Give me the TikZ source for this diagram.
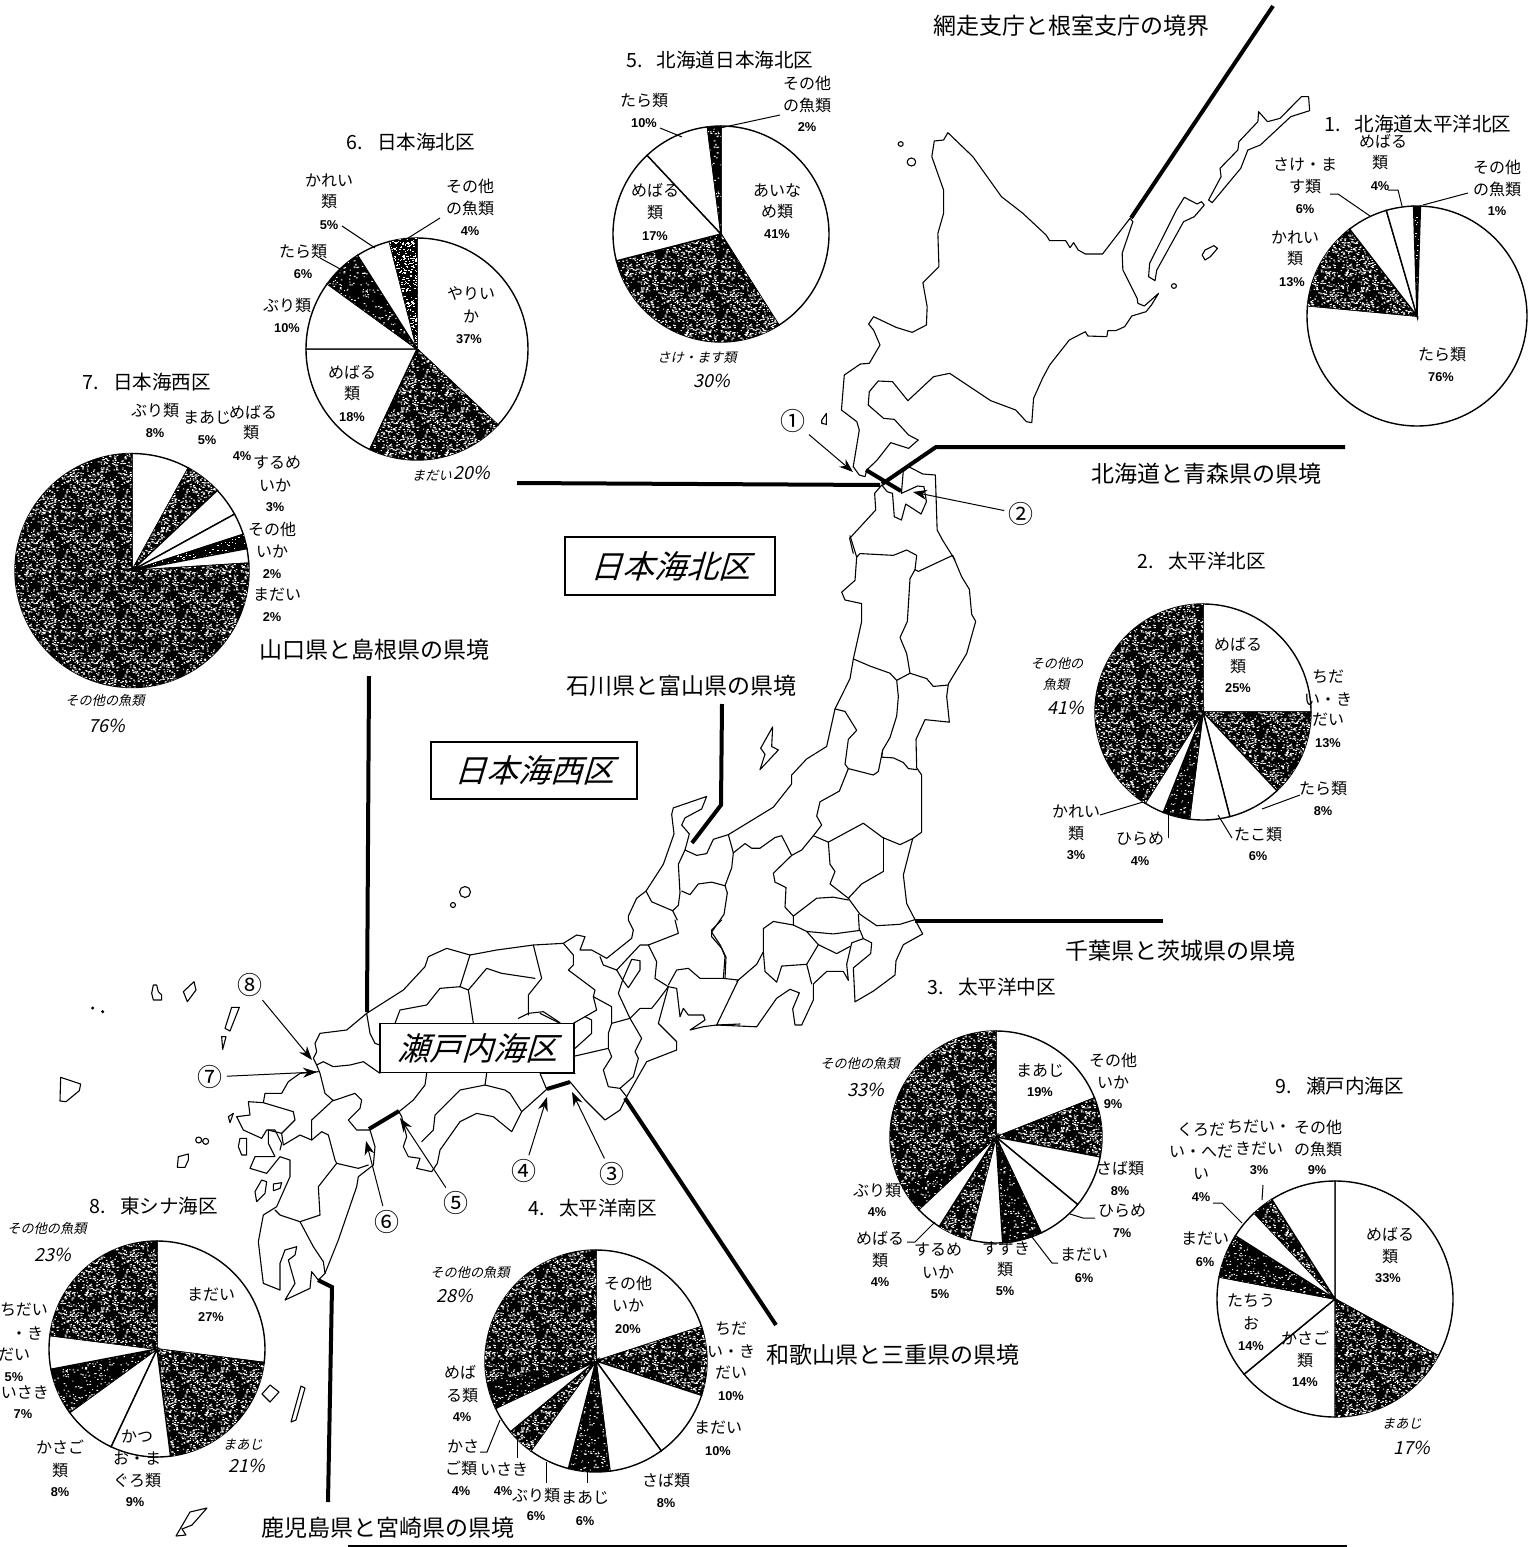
\documentclass[tikz,border=0pt]{standalone}
\usepackage{fontspec}
\setmainfont{Noto Sans CJK JP}
\newfontfamily\pctf{Liberation Sans}
\newfontfamily\slf[FakeSlant=0.3]{Noto Sans CJK JP}
\newfontfamily\hwf[FakeSlant=0.22]{Noto Sans CJK JP}
\usetikzlibrary{arrows.meta,patterns}
\pgfmathsetseed{4711}
\pgfdeclarepatternformonly{speck}{\pgfqpoint{0pt}{0pt}}{\pgfqpoint{30pt}{30pt}}{\pgfqpoint{30pt}{30pt}}{%
  \foreach \i in {1,...,520}{%
    \pgfmathsetmacro\xx{rnd*29.4}\pgfmathsetmacro\yy{rnd*29.4}\pgfmathsetmacro\ww{0.4+rnd*0.7}%
    \pgfpathrectangle{\pgfqpoint{\xx pt}{\yy pt}}{\pgfqpoint{\ww pt}{0.5pt}}\pgfusepath{fill}}}
\pgfdeclarepatternformonly{speckk}{\pgfqpoint{0pt}{0pt}}{\pgfqpoint{30pt}{30pt}}{\pgfqpoint{30pt}{30pt}}{%
  \foreach \i in {1,...,200}{%
    \pgfmathsetmacro\xx{rnd*29.4}\pgfmathsetmacro\yy{rnd*29.4}\pgfmathsetmacro\ww{0.4+rnd*0.6}%
    \pgfpathrectangle{\pgfqpoint{\xx pt}{\yy pt}}{\pgfqpoint{\ww pt}{0.5pt}}\pgfusepath{fill}}}
\tikzset{
  zone1/.style={shift={(780,80)},x=0.17857pt,y=-0.16667pt},
  zone2/.style={shift={(600,500)},x=0.16667pt,y=-0.17857pt},
  zone3/.style={shift={(200,930)},x=0.16667pt,y=-0.16667pt},
  zone5/.style={shift={(540,920)},x=0.16667pt,y=-0.16667pt},
  zone6/.style={shift={(40,960)},x=0.16667pt,y=-0.16667pt},
  maplw/.style={draw=black,line width=0.55pt,line join=round,line cap=round},
  thickb/.style={draw=black,line width=2pt,line join=miter},
  lead/.style={draw=black,line width=0.5pt},
  arr/.style={draw=black,line width=0.5pt,-{Stealth[length=7pt,width=5pt]}},
  pw/.style={draw=black,line width=0.7pt,fill=white},
  pg/.style={draw=black,line width=0.7pt,fill=black,postaction={pattern=speck,pattern color=white}},
  pk/.style={draw=black,line width=0.7pt,fill=black,postaction={pattern=speckk,pattern color=white}},
  lbl/.style={inner sep=0pt,font=\fontsize{8}{8.5}\selectfont},
  pcl/.style={inner sep=0pt,font=\pctf\bfseries\fontsize{6.4}{7}\selectfont},
  ttl/.style={inner sep=0pt,font=\fontsize{9.8}{10}\selectfont},
  bnd/.style={inner sep=0pt,font=\fontsize{11.5}{12}\selectfont},
  hw/.style={inner sep=0pt,font=\hwf\fontsize{6.6}{7}\selectfont},
  hwp/.style={inner sep=0pt,font=\hwf\fontsize{9}{10}\selectfont},
  num/.style={inner sep=0pt,font=\fontsize{12.5}{13}\selectfont},
  zonebox/.style={draw=black,line width=0.8pt,fill=white,inner sep=0pt,font=\slf\fontsize{16}{17}\selectfont},
}
\newcommand\mypie[4]{\foreach \a/\b/\s in {#4}{\path[\s] (#1,#2) -- ++({\a*3.6-90}:#3) arc[start angle={\a*3.6-90},end angle={\b*3.6-90},radius=#3] -- cycle;}}
\newcommand\lab[3]{\node[lbl] at (#1,#2) {#3};}
\newcommand\pc[3]{\node[pcl] at (#1,#2) {#3};}
\newcommand\ttx[2]{#1.\hspace{.7em}#2}
\begin{document}
\begin{tikzpicture}[x=0.5pt,y=-0.5pt]
\useasboundingbox (0,0) rectangle (1540,1547);
% ---------- Hokkaido
\begin{scope}[zone1]
\draw[maplw] (470,158)--(540,230)--(620,350)--(680,400)--(745,465)--(755,482)--(800,482)--(812,503)--(822,488)--(835,510)--(855,522)--(903,522)--(980,415)--(988,425)--(958,520)--(960,570)--(1000,655)--(1002,670)--(1020,678)--(1060,640)--(1040,675)--(1025,695)--(985,708)--(965,740)--(940,752)--(918,752)--(915,770)--(862,768)--(855,755)--(810,780)--(755,855)--(735,895)--(710,955)--(705,1028)--(690,1025)--(660,990)--(590,962)--(475,880)--(430,890)--(358,962)--(315,905)--(275,903)--(250,935)--(247,975)--(290,1015)--(320,1018)--(360,1065)--(387,1080)--(360,1105)--(310,1088)--(272,1140)--(243,1170)--(238,1190)--(222,1185)--(205,1160)--(222,1050)--(215,1025)--(172,990)--(180,885)--(225,852)--(250,850)--(280,795)--(262,750)--(248,732)--(262,710)--(325,742)--(370,757)--(410,735)--(412,680)--(400,608)--(445,560)--(442,460)--(458,400)--(458,330)--(425,230)--(432,183)--(458,180)--cycle;
\draw[maplw] (1480,50)--(1460,50)--(1400,115)--(1365,125)--(1340,95)--(1338,125)--(1285,185)--(1282,210)--(1232,265)--(1235,290)--(1200,360)--(1210,368)--(1290,265)--(1310,210)--(1345,195)--(1430,110)--(1483,92)--cycle;
\draw[maplw] (1132,352)--(1110,390)--(1035,550)--(1032,590)--(1050,602)--(1055,570)--(1130,425)--(1160,410)--(1188,375)--(1180,365)--(1168,372)--cycle;
\draw[maplw] (1182,525)--(1190,510)--(1215,497)--(1225,505)--(1205,530)--(1190,540)--cycle;
\draw[maplw] (1103,618) circle[radius=7];
\draw[maplw] (338,192) circle[radius=7];
\draw[maplw] (368,246) circle[radius=12];
\draw[maplw] (117,1020)--(130,1000)--(130,1033)--(117,1030)--cycle;
% Aomori
\draw[maplw] (205,1420)--(195,1375)--(268,1290)--(265,1240)--(285,1215)--(300,1235)--(315,1240)--(320,1310)--(340,1320)--(352,1272)--(395,1302)--(410,1265)--(403,1220)--(385,1218)--(340,1240)--(345,1175)--(360,1160)--(400,1182)--(435,1185)--(440,1350)--(455,1380)--(490,1440);
\end{scope}
% ---------- Tohoku, Kanto, Chubu
\begin{scope}[zone2]
\draw[maplw] (1058,155)--(1085,215)--(1108,250)--(1115,320)--(1127,340)--(1100,430)--(1045,515)--(1040,550)--(1048,622)--(975,615)--(948,670)--(950,750)--(965,770)--(965,930)--(938,948)--(910,1050)--(920,1130)--(945,1175)--(968,1215)--(910,1245)--(888,1290)--(885,1330)--(820,1375)--(765,1405)--(760,1310)--(812,1270)--(815,1240)--(790,1228)--(755,1240)--(740,1300)--(745,1345)--(730,1320)--(680,1320)--(640,1355)--(640,1400)--(605,1470)--(585,1470)--(578,1425)--(598,1380)--(570,1370)--(530,1395)--(470,1475)--(350,1470);
\draw[maplw] (750,100)--(770,160)--(765,225)--(725,258)--(735,280)--(785,290)--(785,340)--(760,445)--(750,500)--(705,585)--(680,690)--(620,725)--(575,770)--(575,795)--(520,860)--(385,937)--(340,950)--(320,990)--(290,995)--(255,980)--(268,935)--(245,910)--(255,890)--(305,865)--(320,830)--(220,862)--(215,880)--(222,935)--(190,1020)--(138,1095)--(110,1115)--(85,1165)--(85,1176);
\foreach \pth in {
 {(770,160)--(780,150)--(880,155)--(920,140)--(950,155)--(945,195)},
 {(945,195)--(955,200)--(1058,155)},
 {(945,195)--(930,220)--(922,340)--(900,385)--(920,430)--(930,485)},
 {(930,485)--(980,500)--(1000,522)--(1045,518)},
 {(760,445)--(810,465)--(870,485)--(890,505)--(930,485)},
 {(890,505)--(895,550)--(890,605)--(870,665)--(848,700)--(845,720)},
 {(845,720)--(880,722)--(910,735)--(925,752)--(950,755)},
 {(705,585)--(735,592)--(770,645)--(745,670)--(735,740)--(745,752)},
 {(745,752)--(820,770)--(835,760)--(848,700)},
 {(745,752)--(718,815)--(660,845)--(650,885)--(665,910)--(640,940)},
 {(640,940)--(605,980)--(575,995)--(545,940)--(525,945)--(480,975)--(455,975)--(435,962)--(400,988)},
 {(640,940)--(685,958)--(790,905)--(848,945)},
 {(848,945)--(900,965)--(938,948)},
 {(850,945)--(850,1040)},
 {(685,958)--(690,1020)--(705,1040)--(690,1075)--(745,1115)},
 {(850,1040)--(785,1075)--(745,1115)},
 {(745,1115)--(780,1160)--(830,1192)--(900,1188)--(945,1175)},
 {(575,995)--(520,1045)--(525,1070)--(558,1085)--(555,1140)--(580,1165)},
 {(580,1165)--(650,1115)--(700,1112)--(745,1120)},
 {(580,1190)--(620,1208)--(700,1215)--(780,1205)--(790,1228)},
 {(775,1160)--(778,1205)},
 {(580,1165)--(580,1190)--(520,1180)--(490,1200)--(490,1265)--(495,1320)--(530,1350)--(545,1305)--(620,1300)},
 {(620,1208)--(655,1245)--(620,1300)},
 {(655,1245)--(710,1270)--(750,1250)},
 {(620,1300)--(635,1355)},
 {(385,937)--(400,988)--(395,1030)--(375,1080)},
 {(375,1080)--(335,1070)--(295,1075)--(270,1105)--(245,1095)},
 {(255,980)--(235,1020)--(240,1100)--(235,1135)--(218,1150)},
 {(138,1095)--(155,1125)--(218,1150)},
 {(218,1150)--(232,1176)},
 {(375,1080)--(382,1100)--(372,1160)--(335,1210)--(360,1245)--(378,1280)--(375,1340)},
 {(490,1265)--(470,1300)--(410,1348)}
}{\draw[maplw] \pth;}
\draw[maplw] (518,635)--(482,695)--(495,712)--(480,755)--(535,700)--(515,690)--cycle;
\end{scope}
% ---------- Kinki
\begin{scope}[zone5]
\foreach \pth in {
 {(70,70)--(110,45)--(135,50)--(120,90)--(155,90)--(200,115)--(275,55)--(280,30)--(265,0)},
 {(70,70)--(100,105)--(100,135)--(85,150)--(165,210)--(160,230)--(215,260)--(215,310)--(205,340)--(205,385)--(215,410)--(190,450)--(205,500)--(240,505)--(260,530)},
 {(180,110)--(190,135)--(230,150)--(300,75)--(325,75)},
 {(230,150)--(248,180)--(235,220)--(270,295)--(305,355)--(285,395)--(295,415)--(280,470)--(240,505)},
 {(325,75)--(350,125)--(345,175)--(385,200)--(355,240)--(335,265)--(300,265)--(270,295)--(215,310)},
 {(260,530)--(300,460)--(320,425)--(410,390)--(410,365)--(355,310)--(385,200)},
 {(385,200)--(410,205)--(420,290)--(430,265)--(445,285)--(490,285)--(495,300)--(450,330)--(490,320)--(530,315)--(600,312)},
 {(385,195)--(410,150)--(445,145)--(480,175)--(550,175)--(595,180)--(530,315)},
 {(550,175)--(555,110)--(545,85)--(515,50)--(515,30)--(545,0)},
 {(325,75)--(415,40)--(405,0)},
 {(100,310)--(135,290)--(155,300)--(155,340)--(105,385)},
 {(105,408)--(205,385)},
 {(135,290)--(170,270)--(160,230)},
 {(90,485)--(135,540)--(195,600)--(240,570)--(260,530)},
 {(0,280)--(60,310)}
}{\draw[maplw] \pth;}
\draw[maplw] (275,118)--(300,122)--(300,150)--(265,203)--(248,180)--cycle;
\end{scope}
% ---------- Chugoku, Shikoku, Kyushu
\begin{scope}[zone3]
\foreach \pth in {
 {(1090,40)--(1000,45)--(890,60)--(810,75)--(740,55)--(685,80)--(675,110)--(610,180)--(500,250)--(440,300)--(360,310)--(345,340)--(350,365)--(340,385)--(350,405)--(370,395)--(400,410)--(450,405)--(490,395)--(540,430)},
 {(1000,45)--(1025,145)--(985,195)--(985,255)},
 {(810,75)--(780,170)--(805,180)--(820,280)},
 {(780,170)--(720,175)--(680,225)--(600,240)--(585,280)},
 {(500,250)--(510,310)--(525,340)--(540,345)},
 {(805,180)--(860,115)--(905,130)--(1005,145)},
 {(955,265)--(985,250)--(1030,245)--(1080,278)},
 {(1125,430)--(1020,430)--(1040,478)},
 {(860,430)--(855,465)},
 {(680,430)--(675,465)--(640,510)--(597,545)},
 {(510,600)--(470,600)--(445,570)--(480,535)--(485,510)--(465,490)--(400,512)--(375,490)--(360,430)--(350,405)},
 {(597,545)--(605,560)--(620,620)--(610,650)--(625,680)--(660,685)--(650,715)--(695,725)--(712,700)--(720,660)--(780,575)--(830,550)--(880,560)--(935,605)--(965,545)--(1040,478)},
 {(665,635)--(700,600)--(705,555)--(780,480)--(855,465)--(915,480)--(930,490)--(965,545)},
 {(355,425)--(300,430)--(265,455)--(245,490)--(195,490)--(190,518)--(280,545)--(285,570)--(245,610)--(250,645)--(300,615)--(335,630)--(335,570)--(400,510)},
 {(190,518)--(145,515)--(150,555)--(110,560)--(130,600)--(185,625)--(200,600)--(225,600)--(245,640)--(240,660)},
 {(245,610)--(205,600)--(205,640)--(225,680)--(165,680)--(150,715)--(200,730)--(240,680)--(270,690)--(270,740)--(230,830)--(190,855)--(175,935)--(185,1020)--(190,1060)--(240,1080)--(240,1000)--(255,960)--(290,950)--(285,975)--(265,990)--(285,1060)--(255,1110)--(330,1075)--(335,1025)--(355,1050)--(375,1030)--(415,930)--(470,770)--(475,740)--(520,705)--(525,650)--(510,600)},
 {(225,840)--(240,855)--(300,875)--(360,855)--(355,770)--(410,700)--(475,715)--(505,705)},
 {(300,875)--(340,950)--(370,995)--(375,1030)},
 {(335,630)--(365,605)--(385,615)--(405,690)--(410,700)}
}{\draw[maplw] \pth;}
\draw[maplw] (120,625)--(140,625)--(140,675)--(125,675)--(115,650)--cycle;
\draw[maplw] (185,750)--(200,755)--(195,790)--(170,815)--(165,785)--cycle;
\draw[maplw] (220,762)--(245,758)--(240,775)--(220,782)--cycle;
\draw[maplw] (85,560)--(100,550)--(90,578)--cycle;
\draw[maplw] (95,232)--(118,232)--(90,303)--(75,295)--cycle;
\draw[maplw] (65,320)--(78,320)--(68,358)--cycle;
\end{scope}
% ---------- small islands
\begin{scope}[zone6]
\draw[maplw] (340,75)--(350,75)--(355,95)--(365,105)--(365,120)--(340,120)--(335,100)--cycle;
\draw[maplw] (430,95)--(462,65)--(468,90)--(442,125)--cycle;
\draw[maplw] (62,352)--(122,372)--(118,392)--(78,425)--(60,423)--cycle;
\draw[maplw] (476,540) circle[radius=9];
\draw[maplw] (497,544) circle[radius=9];
\draw[maplw] (415,590)--(445,582)--(445,600)--(435,622)--(412,622)--cycle;
\fill[black] (158,144) circle[radius=5];
\fill[black] (188,155) circle[radius=5];
\end{scope}
\draw[maplw] (262,1394)--(270,1385)--(279,1392)--(270,1402)--cycle;
\draw[maplw] (291,1422)--(301,1386)--(305,1388)--(296,1420)--cycle;
\draw[maplw] (176,1536)--(190,1512)--(207,1508)--(192,1525)--(182,1529)--(186,1535)--cycle;
\draw[maplw] (465,892) circle[radius=5.5];
\draw[maplw] (453,905) circle[radius=2.5];
% ---------- boundary lines
\coordinate (abA) at (1273,6);
\coordinate (abB) at (1131,218);
\draw[thickb] (abA)--(abB);
\draw[thickb] (1345,447)--(936,447)--(882,484);
\draw[thickb] (517,483)--(880,485);
\draw[thickb] (866,470)--(901,491);
\draw[thickb] (369,676)--(367,1012);
\draw[thickb] (722,704)--(721,805)--(692,843);
\draw[thickb] (1163,921)--(915,921);
\draw[thickb] (776,1325)--(625,1098);
\draw[thickb] (328,1502)--(332,1287)--(318,1280);
\draw[thickb] (547,1089)--(570,1082);
\draw[thickb] (369,1129)--(399,1111);
\draw[black,line width=0.8pt] (348,1546)--(1347,1546);
% ---------- zone boxes
\node[zonebox,minimum width=209.5*0.5pt,minimum height=58*0.5pt] (bN) at (670,566) {日本海北区};
\node[zonebox,minimum width=206*0.5pt,minimum height=57*0.5pt] (bW) at (534,770.5) {日本海西区};
\node[zonebox,minimum width=194*0.5pt,minimum height=49*0.5pt] (bS) at (477,1048) {瀬戸内海区};
% ---------- boundary captions
\node[bnd] (c1) at (1071,26) {網走支庁と根室支庁の境界};
\node[bnd] (c2) at (1206,474) {北海道と青森県の県境};
\node[bnd] (c3) at (374,650) {山口県と島根県の県境};
\node[bnd] (c4) at (681,686) {石川県と富山県の県境};
\node[bnd] (c5) at (1180,951) {千葉県と茨城県の県境};
\node[bnd] (c6) at (893,1355) {和歌山県と三重県の県境};
\node[bnd] (c7) at (388,1528) {鹿児島県と宮崎県の県境};
% ---------- numbered arrows
\node[num] (n1) at (793,421) {①};
\node[num] (n2) at (1021,514) {②};
\node[num] (n3) at (612,1174) {③};
\node[num] (n4) at (524,1171) {④};
\node[num] (n5) at (456,1203) {⑤};
\node[num] (n6) at (387,1222) {⑥};
\node[num] (n7) at (210,1077) {⑦};
\node[num] (n8) at (250,985) {⑧};
\coordinate (t1) at (853,472); \coordinate (t2) at (913,492);
\coordinate (t3) at (572,1092); \coordinate (t4) at (547,1097);
\coordinate (t5) at (400,1118); \coordinate (t6) at (366,1141);
\coordinate (t7) at (317,1072); \coordinate (t8) at (312,1060);
\foreach \i in {1,...,8}{\draw[arr,shorten <=2pt] (n\i)--(t\i);}
% ---------- pies
\mypie{1417}{316}{110}{-0.5/0.5/pk,0.5/76.5/pw,76.5/89.5/pg,89.5/95.5/pw,95.5/99.5/pw}
\mypie{1203}{712}{108}{0/25/pw,25/38/pg,38/46/pw,46/52/pw,52/56/pk,56/59/pw,59/100/pg}
\mypie{996}{1137}{106}{0/19/pw,19/28/pg,28/36/pw,36/43/pw,43/49/pk,49/54/pw,54/59/pg,59/63/pw,63/67/pk,67/100/pg}
\mypie{596}{1361}{111}{0/20/pw,20/30/pg,30/40/pw,40/48/pw,48/54/pk,54/60/pw,60/64/pg,64/68/pw,68/72/pk,72/100/pg}
\mypie{721}{234}{108}{0/41/pw,41/71/pg,71/88/pw,88/98/pw,98/100/pk}
\mypie{417}{349}{111}{0/37/pw,37/57/pg,57/75/pw,75/85/pw,85/91/pk,91/96/pw,96/100/pg}
\mypie{132}{570.5}{117}{0/8/pw,8/13/pg,13/17/pw,17/20/pw,20/22/pk,22/24/pw,24/100/pg}
\mypie{157}{1349}{108}{0/27/pw,27/48/pg,48/57/pw,57/65/pw,65/72/pk,72/77/pw,77/100/pg}
\mypie{1335}{1299}{118}{0/33/pw,33/50/pg,50/64/pw,64/78/pw,78/84/pk,84/88/pw,88/91/pg,91/100/pw}
% ---------- leaders
\foreach \pth in {
 {(1330,194)--(1338,194)--(1370,216)},{(1388,190)--(1398,190)--(1402,206)},{(1468,193)--(1423,205)},
 {(1300,795)--(1262,809)},{(1232,838)--(1218,815)},{(1168,838)--(1168,815)},{(1100,815)--(1143,802)},
 {(1095,1218)--(1083,1218)--(1070,1214)},{(1058,1263)--(1052,1263)--(1032,1237)},{(907,1242)--(915,1242)--(935,1222)},
 {(480,1452)--(487,1452)--(500,1420)},{(517,1458)--(517,1440)},{(546,1483)--(546,1462)},{(587,1483)--(587,1472)},
 {(660,128)--(682,137)},{(780,115)--(720,128)},
 {(342,226)--(375,248)},{(440,218)--(405,240)},{(320,258)--(342,270)},
 {(1213,1203)--(1222,1203)--(1242,1223)},{(1263,1185)--(1262,1200)}
}{\draw[lead] \pth;}
% ---------- titles
\node[ttl] (p1) at (1418,124) {\ttx{1}{北海道太平洋北区}};
\node[ttl] (p2) at (1202,561) {\ttx{2}{太平洋北区}};
\node[ttl] (p3) at (992,987) {\ttx{3}{太平洋中区}};
\node[ttl] (p4) at (593,1208) {\ttx{4}{太平洋南区}};
\node[ttl] (p5) at (720,60) {\ttx{5}{北海道日本海北区}};
\node[ttl] (p6) at (411,142) {\ttx{6}{日本海北区}};
\node[ttl] (p7) at (147,382) {\ttx{7}{日本海西区}};
\node[ttl] (p8) at (154,1206) {\ttx{8}{東シナ海区}};
\node[ttl] (p9) at (1340,1086) {\ttx{9}{瀬戸内海区}};
% ---------- pie 1
\lab{1383}{141}{めばる}\lab{1380}{163}{類}\pc{1380}{186}{4\%}
\lab{1497}{167}{その他}\lab{1497}{189}{の魚類}\pc{1497}{211}{1\%}
\lab{1305}{165}{さけ・ま}\lab{1305}{187}{す類}\pc{1305}{209}{6\%}
\lab{1295}{237}{かれい}\lab{1295}{259}{類}\pc{1292}{282}{13\%}
\lab{1442}{355}{たら類}\pc{1441}{377}{76\%}
% pie 2
\lab{1238}{644}{めばる}\lab{1238}{666}{類}\pc{1238}{688}{25\%}
\lab{1328}{677}{ちだ}\lab{1328}{699}{い・き}\lab{1328}{720}{だい}\pc{1328}{743}{13\%}
\lab{1323}{788}{たら類}\pc{1323}{811}{8\%}
\lab{1258}{834}{たこ類}\pc{1258}{856}{6\%}
\lab{1140}{839}{ひらめ}\pc{1140}{861}{4\%}
\lab{1076}{811}{かれい}\lab{1076}{833}{類}\pc{1076}{855}{3\%}
\node[hw] at (1057,663) {その他の};\node[hw] at (1056,684) {魚類};\node[hwp] at (1066,708) {41\%};
% pie 3
\lab{1040}{1071}{まあじ}\pc{1040}{1092}{19\%}
\lab{1113}{1060}{その他}\lab{1113}{1082}{いか}\pc{1113}{1104}{9\%}
\lab{1120}{1168}{さば類}\pc{1120}{1191}{8\%}
\lab{1122}{1211}{ひらめ}\pc{1122}{1233}{7\%}
\lab{1084}{1255}{まだい}\pc{1084}{1278}{6\%}
\lab{1006}{1248}{すずき}\lab{1005}{1269}{類}\pc{1005}{1291}{5\%}
\lab{938}{1250}{するめ}\lab{938}{1272}{いか}\pc{940}{1294}{5\%}
\lab{880}{1238}{めばる}\lab{880}{1260}{類}\pc{880}{1282}{4\%}
\lab{877}{1190}{ぶり類}\pc{877}{1212}{4\%}
\node[hw] at (860,1063) {その他の魚類};\node[hwp] at (866,1090) {33\%};
% pie 4
\lab{628}{1283}{その他}\lab{628}{1305}{いか}\pc{628}{1329}{20\%}
\lab{731}{1329}{ちだ}\lab{731}{1351}{い・き}\lab{731}{1373}{だい}\pc{731}{1396}{10\%}
\lab{718}{1428}{まだい}\pc{718}{1451}{10\%}
\lab{666}{1480}{さば類}\pc{666}{1503}{8\%}
\lab{585}{1498}{まあじ}\pc{585}{1521}{6\%}
\lab{536}{1495}{ぶり類}\pc{536}{1516}{6\%}
\lab{504}{1469}{いさき}\pc{503}{1491}{4\%}
\lab{463}{1446}{かさ}\lab{461}{1468}{ご類}\pc{461}{1491}{4\%}
\lab{460}{1372}{めば}\lab{462}{1395}{る類}\pc{462}{1417}{4\%}
\node[hw] at (470,1272) {その他の魚類};\node[hwp] at (455,1296) {28\%};
% pie 5
\lab{807}{83}{その他}\lab{807}{105}{の魚類}\pc{807}{127}{2\%}
\lab{644}{101}{たら類}\pc{644}{123}{10\%}
\lab{777}{190}{あいな}\lab{777}{212}{め類}\pc{777}{234}{41\%}
\lab{655}{190}{めばる}\lab{655}{213}{類}\pc{655}{236}{17\%}
\node[hw] at (697,358) {さけ・ます類};\node[hwp] at (712,381) {30\%};
% pie 6
\lab{329}{180}{かれい}\lab{329}{202}{類}\pc{329}{225}{5\%}
\lab{470}{186}{その他}\lab{470}{208}{の魚類}\pc{470}{231}{4\%}
\lab{303}{252}{たら類}\pc{303}{274}{6\%}
\lab{287}{306}{ぶり類}\pc{287}{328}{10\%}
\lab{471}{293}{やりい}\lab{471}{316}{か}\pc{469}{339}{37\%}
\lab{352}{372}{めばる}\lab{352}{394}{類}\pc{352}{417}{18\%}
\node[hw] at (432,476) {まだい};\node[hwp] at (472,473) {20\%};
% pie 7
\lab{155}{411}{ぶり類}\pc{155}{433}{8\%}
\lab{207}{418}{まあじ}\pc{207}{440}{5\%}
\lab{253}{412}{めばる}\lab{251}{433}{類}\pc{242}{456}{4\%}
\lab{277}{463}{するめ}\lab{275}{485}{いか}\pc{275}{507}{3\%}
\lab{272}{529}{その他}\lab{272}{551}{いか}\pc{272}{574}{2\%}
\lab{277}{595}{まだい}\pc{272}{617}{2\%}
\node[hw] at (105,700) {その他の魚類};\node[hwp] at (107,726) {76\%};
% pie 8
\lab{211}{1295}{まだい}\pc{211}{1317}{27\%}
\node[hw] at (47,1228) {その他の魚類};\node[hwp] at (53,1255) {23\%};
\lab{24}{1310}{ちだい}\lab{27}{1333}{・き}\lab{14}{1355}{だい}\pc{14}{1377}{5\%}
\lab{25}{1392}{いさき}\pc{23}{1414}{7\%}
\lab{60}{1447}{かさご}\lab{60}{1470}{類}\pc{60}{1492}{8\%}
\lab{137}{1436}{かつ}\lab{137}{1458}{お・ま}\lab{137}{1480}{ぐろ類}\pc{135}{1502}{9\%}
\node[hw] at (243,1445) {まあじ};\node[hwp] at (247,1466) {21\%};
% pie 9
\lab{1201}{1130}{くろだ}\lab{1201}{1152}{い・へだ}\lab{1201}{1174}{い}\pc{1201}{1197}{4\%}
\lab{1259}{1127}{ちだい・}\lab{1259}{1149}{きだい}\pc{1259}{1170}{3\%}
\lab{1318}{1127}{その他}\lab{1318}{1149}{の魚類}\pc{1317}{1170}{9\%}
\lab{1205}{1239}{まだい}\pc{1205}{1262}{6\%}
\lab{1390}{1234}{めばる}\lab{1390}{1256}{類}\pc{1388}{1278}{33\%}
\lab{1251}{1301}{たちう}\lab{1251}{1323}{お}\pc{1251}{1346}{14\%}
\lab{1305}{1338}{かさご}\lab{1305}{1360}{類}\pc{1305}{1382}{14\%}
\node[hw] at (1402,1424) {まあじ};\node[hwp] at (1412,1448) {17\%};
\end{tikzpicture}
\end{document}
